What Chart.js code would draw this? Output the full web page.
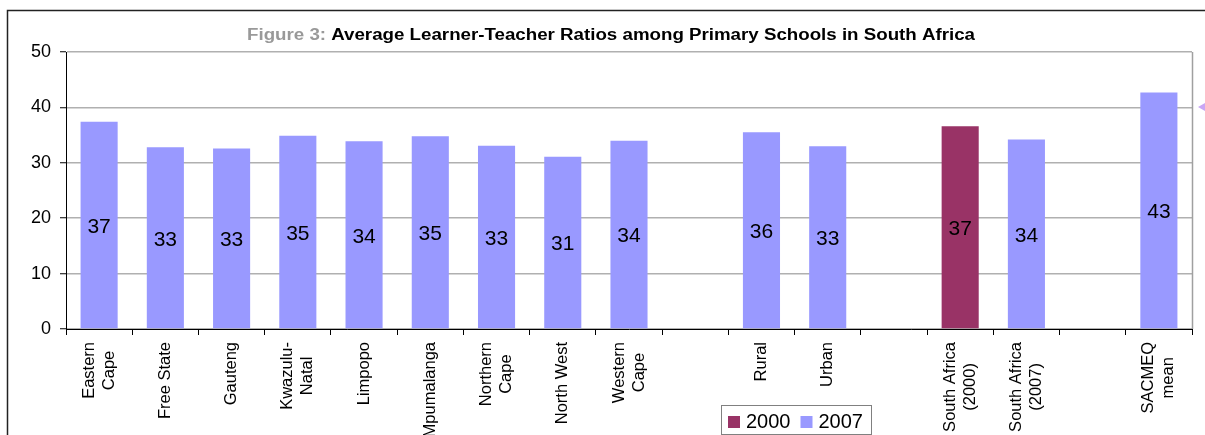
<!DOCTYPE html>
<html>
<head>
<meta charset="utf-8">
<title>Average Learner-Teacher Ratios</title>
<script src="https://cdn.jsdelivr.net/npm/chart.js@4.4.1/dist/chart.umd.min.js"></script>
<style>
    body { margin: 0; background: #fff; }
    canvas { display: block; }
</style>
</head>
<body>
<canvas id="ratioChart" width="1205" height="435"></canvas>
<script>
// Categories - the empty ones are the spacer slots between groups
const categories = [
    ['Eastern', 'Cape'], ['Free State'], ['Gauteng'], ['Kwazulu-', 'Natal'], ['Limpopo'],
    ['Mpumalanga'], ['Northern', 'Cape'], ['North West'], ['Western', 'Cape'], [''],
    ['Rural'], ['Urban'], [''],
    ['South Africa', '(2000)'], ['South Africa', '(2007)'], [''],
    ['SACMEQ', 'mean']
];
const seriesNames = ['2000', '2007'];
const seriesColors = ['#993366', '#9999FF'];
const values2000 = [null, null, null, null, null, null, null, null, null, null, null, null, null, 36.6, null, null, null];
const values2007 = [37.4, 32.8, 32.6, 34.9, 33.9, 34.8, 33.1, 31.1, 34.0, null, 35.5, 33.0, null, null, 34.2, null, 42.7];
const yTicks = [0, 10, 20, 30, 40, 50];

const FONT = '"Liberation Sans", Arial, sans-serif';

class RatioChart {
    constructor() {
        this.canvas = document.getElementById('ratioChart');
        this.createChart();
    }

    // Everything Chart.js does not draw on its own: frame, title, labels, legend
    decorPlugin() {
        return {
            id: 'decor',
            beforeDraw(chart) {
                const ctx = chart.ctx;
                ctx.save();
                ctx.fillStyle = '#fff';
                ctx.fillRect(0, 0, chart.width, chart.height);
                ctx.restore();
            },
            afterDraw(chart) {
                const ctx = chart.ctx;
                const area = chart.chartArea;
                ctx.save();

                // Outer frame (runs off the right and bottom edges)
                ctx.strokeStyle = '#222';
                ctx.lineWidth = 1.5;
                ctx.strokeRect(7.5, 10.5, chart.width + 20, chart.height + 20);

                // Plot area right edge
                ctx.strokeStyle = '#a0a0a0';
                ctx.lineWidth = 1.5;
                ctx.beginPath();
                ctx.moveTo(area.right + 0.5, area.top);
                ctx.lineTo(area.right + 0.5, area.bottom);
                ctx.stroke();

                // Title in two colours, stretched a little to the original's width
                ctx.font = 'bold 16px ' + FONT;
                ctx.textBaseline = 'middle';
                ctx.textAlign = 'left';
                const part1 = 'Figure 3: ';
                const part2 = 'Average Learner-Teacher Ratios among Primary Schools in South Africa';
                const w1 = ctx.measureText(part1).width;
                const w2 = ctx.measureText(part2).width;
                const sx = 728 / (w1 + w2);
                ctx.save();
                ctx.translate(247, 36);
                ctx.scale(sx, 1);
                ctx.fillStyle = '#999999';
                ctx.fillText(part1, 0, 0);
                ctx.fillStyle = '#000';
                ctx.fillText(part2, w1, 0);
                ctx.restore();

                // Rotated category labels
                const xScale = chart.scales.x;
                ctx.font = '16.5px ' + FONT;
                ctx.fillStyle = '#000';
                ctx.textAlign = 'center';
                ctx.textBaseline = 'middle';
                chart.data.labels.forEach((lines, i) => {
                    const x = xScale.getPixelForValue(i);
                    const maxW = Math.max(...lines.map(l => ctx.measureText(l).width));
                    const lineHeight = 20;
                    ctx.save();
                    ctx.translate(x, area.bottom + 13 + maxW / 2);
                    ctx.rotate(-Math.PI / 2);
                    lines.forEach((line, k) => {
                        ctx.fillText(line, 0, (k - (lines.length - 1) / 2) * lineHeight);
                    });
                    ctx.restore();
                });

                // Value labels in the middle of each bar
                ctx.font = '21px ' + FONT;
                chart.data.datasets.forEach((ds, d) => {
                    const meta = chart.getDatasetMeta(d);
                    meta.data.forEach((bar, j) => {
                        const v = ds.data[j];
                        if (v === null) return;
                        ctx.fillText(String(Math.round(v)), bar.x, (bar.y + bar.base) / 2 + 2);
                    });
                });

                // Legend box
                ctx.font = '20px ' + FONT;
                ctx.strokeStyle = '#808080';
                ctx.lineWidth = 1;
                ctx.strokeRect(721.5, 405.5, 150, 29);
                ctx.textAlign = 'left';
                let lx = 728;
                chart.data.datasets.forEach(ds => {
                    ctx.fillStyle = ds.backgroundColor;
                    ctx.fillRect(lx, 416, 12, 12);
                    ctx.fillStyle = '#000';
                    ctx.fillText(ds.label, lx + 18, 422);
                    lx += 18 + ctx.measureText(ds.label).width + 10;
                });

                // Small marker at the right edge
                ctx.fillStyle = '#c9a6f5';
                ctx.beginPath();
                ctx.moveTo(1198, 107);
                ctx.lineTo(1205, 103);
                ctx.lineTo(1205, 111);
                ctx.closePath();
                ctx.fill();

                ctx.restore();
            }
        };
    }

    createChart() {
        new Chart(this.canvas, {
            type: 'bar',
            data: {
                labels: categories,
                datasets: [
                    { label: seriesNames[0], data: values2000, backgroundColor: seriesColors[0] },
                    { label: seriesNames[1], data: values2007, backgroundColor: seriesColors[1] }
                ]
            },
            options: {
                responsive: false,
                animation: false,
                layout: { padding: { top: 52, right: 13, bottom: 0, left: 0 } },
                datasets: {
                    bar: { barPercentage: 0.56, categoryPercentage: 1 }
                },
                plugins: {
                    legend: { display: false },
                    title: { display: false },
                    tooltip: { enabled: false }
                },
                scales: {
                    x: {
                        stacked: true,
                        afterFit: scale => { scale.height = 106; },
                        ticks: { display: false },
                        grid: {
                            offset: true,
                            drawOnChartArea: false,
                            tickLength: 6,
                            tickColor: '#000'
                        },
                        border: { color: '#000', width: 1 }
                    },
                    y: {
                        stacked: true,
                        min: yTicks[0],
                        max: yTicks[yTicks.length - 1],
                        afterFit: scale => { scale.width = 66; },
                        afterBuildTicks: scale => {
                            scale.ticks = yTicks.map(v => ({ value: v }));
                        },
                        ticks: {
                            color: '#000',
                            padding: 9,
                            font: { family: FONT, size: 18 }
                        },
                        grid: {
                            color: '#b0b0b0',
                            lineWidth: 1.5,
                            tickLength: 6,
                            tickColor: '#000',
                            tickWidth: 1
                        },
                        border: { color: '#000', width: 1 }
                    }
                }
            },
            plugins: [this.decorPlugin()]
        });
    }
}

document.addEventListener('DOMContentLoaded', () => {
    const ratioChart = new RatioChart();
});
</script>
</body>
</html>
